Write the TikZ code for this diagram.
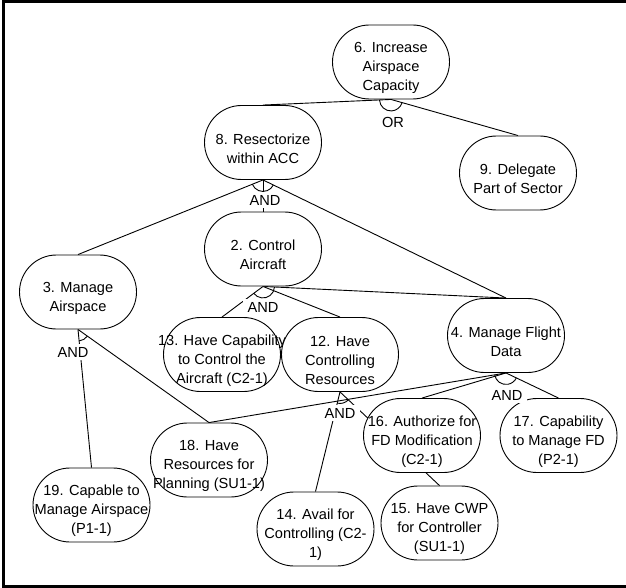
\documentclass[tikz,border=0pt]{standalone}
\usepackage{fontspec}
\setmainfont{Liberation Sans}
\usetikzlibrary{shapes.misc,backgrounds}

\tikzset{
  goal/.style={draw, fill=white, rounded rectangle, minimum width=117pt,
    minimum height=74pt, inner sep=0pt, line width=0.9pt},
  goaltext/.style={align=center, yshift=-6pt, inner sep=0pt,
    font=\fontsize{14.6}{19}\selectfont},
  gate/.style={fill=white, inner xsep=5pt, inner ysep=3pt,
    font=\fontsize{14.6}{19}\selectfont},
  wire/.style={line width=0.9pt},
}

\begin{document}
\begin{tikzpicture}[x=1pt, y=-1pt]
  \useasboundingbox (0,0) rectangle (626,588);
  % Frame:
  \draw[line width=3pt] (626,1.5) -- (3,1.5) -- (3,586.5) -- (626,586.5);

  % Goals:
  \node[goal, label={[goaltext]center:{6. Increase\\Airspace\\Capacity}}] (n6) at (391,62) {};
  \node[goal, label={[goaltext]center:{8. Resectorize\\within ACC}}] (n8) at (263,142.5) {};
  \node[goal, label={[goaltext]center:{9. Delegate\\Part of Sector}}] (n9) at (518,173) {};
  \node[goal, label={[goaltext]center:{2. Control\\Aircraft}}] (n2) at (263,249) {};
  \node[goal, label={[goaltext]center:{3. Manage\\Airspace}}] (n3) at (78,292) {};
  \node[goal, label={[goaltext]center:{13. Have Capability\\to Control the\\Aircraft (C2-1)}}] (n13) at (222,354.5) {};
  \node[goal, label={[goaltext]center:{12. Have\\Controlling\\Resources}}] (n12) at (340,354.5) {};
  \node[goal, label={[goaltext]center:{4. Manage Flight\\Data}}] (n4) at (506,335.5) {};
  \node[goal, label={[goaltext]center:{18. Have\\Resources for\\Planning (SU1-1)}}] (n18) at (209,460) {};
  \node[goal, label={[goaltext]center:{16. Authorize for\\FD Modification\\(C2-1)}}] (n16) at (422,435.5) {};
  \node[goal, label={[goaltext]center:{17. Capability\\to Manage FD\\(P2-1)}}] (n17) at (558.5,435.5) {};
  \node[goal, label={[goaltext]center:{19. Capable to\\Manage Airspace\\(P1-1)}}] (n19) at (91.5,505) {};
  \node[goal, label={[goaltext]center:{14. Avail for\\Controlling (C2-\\1)}}] (n14) at (315.5,529) {};
  \node[goal, label={[goaltext]center:{15. Have CWP\\for Controller\\(SU1-1)}}] (n15) at (439.5,523) {};

  % Links and decomposition arcs:
  \begin{scope}[on background layer]
    \draw[wire] (n6.south) -- (n8.north);
    \draw[wire] (n6.south) -- (n9.north);
    \draw[wire] (n8.south) -- (n3.north);
    \draw[wire] (n8.south) -- (n2.north);
    \draw[wire] (n8.south) -- (n4.north);
    \draw[wire] (n2.south) -- (n13.north);
    \draw[wire] (n2.south) -- (n12.north);
    \draw[wire] (n2.south) -- (n4.north);
    \draw[wire] (n3.south) -- (n19.north);
    \draw[wire] (n3.south) -- (n18.north);
    \draw[wire] (n12.south) -- (n14.north);
    \draw[wire] (n12.south) -- (n15.north);
    \draw[wire] (n4.south) -- (n18.north);
    \draw[wire] (n4.south) -- (n16.north);
    \draw[wire] (n4.south) -- (n17.north);
    \draw[wire] ([shift={(182.9:11.5pt)}]n6.south) arc[start angle=182.9, end angle=343.8, radius=11.5pt];
    \draw[wire] ([shift={(202.2:11.5pt)}]n8.south) arc[start angle=202.2, end angle=333.9, radius=11.5pt];
    \draw[wire] ([shift={(217.5:11.5pt)}]n2.south) arc[start angle=217.5, end angle=357.1, radius=11.5pt];
    \draw[wire] ([shift={(189.7:11.5pt)}]n4.south) arc[start angle=189.7, end angle=333.7, radius=11.5pt];
    \draw[wire] ([shift={(275.5:11.5pt)}]n3.south) arc[start angle=275.5, end angle=324.3, radius=11.5pt];
    \draw[wire] ([shift={(256.3:11.5pt)}]n12.south) arc[start angle=256.3, end angle=316.5, radius=11.5pt];
  \end{scope}

  % Gate labels:
  \node[gate] (or6) at (393,122) {OR};
  \node[gate] (and8) at (265,200) {AND};
  \node[gate] (and2) at (263,307) {AND};
  \node[gate] (and4) at (507,395) {AND};
  \node[gate] (and3) at (73,352) {AND};
  \node[gate] (and12) at (340,413) {AND};
\end{tikzpicture}
\end{document}
